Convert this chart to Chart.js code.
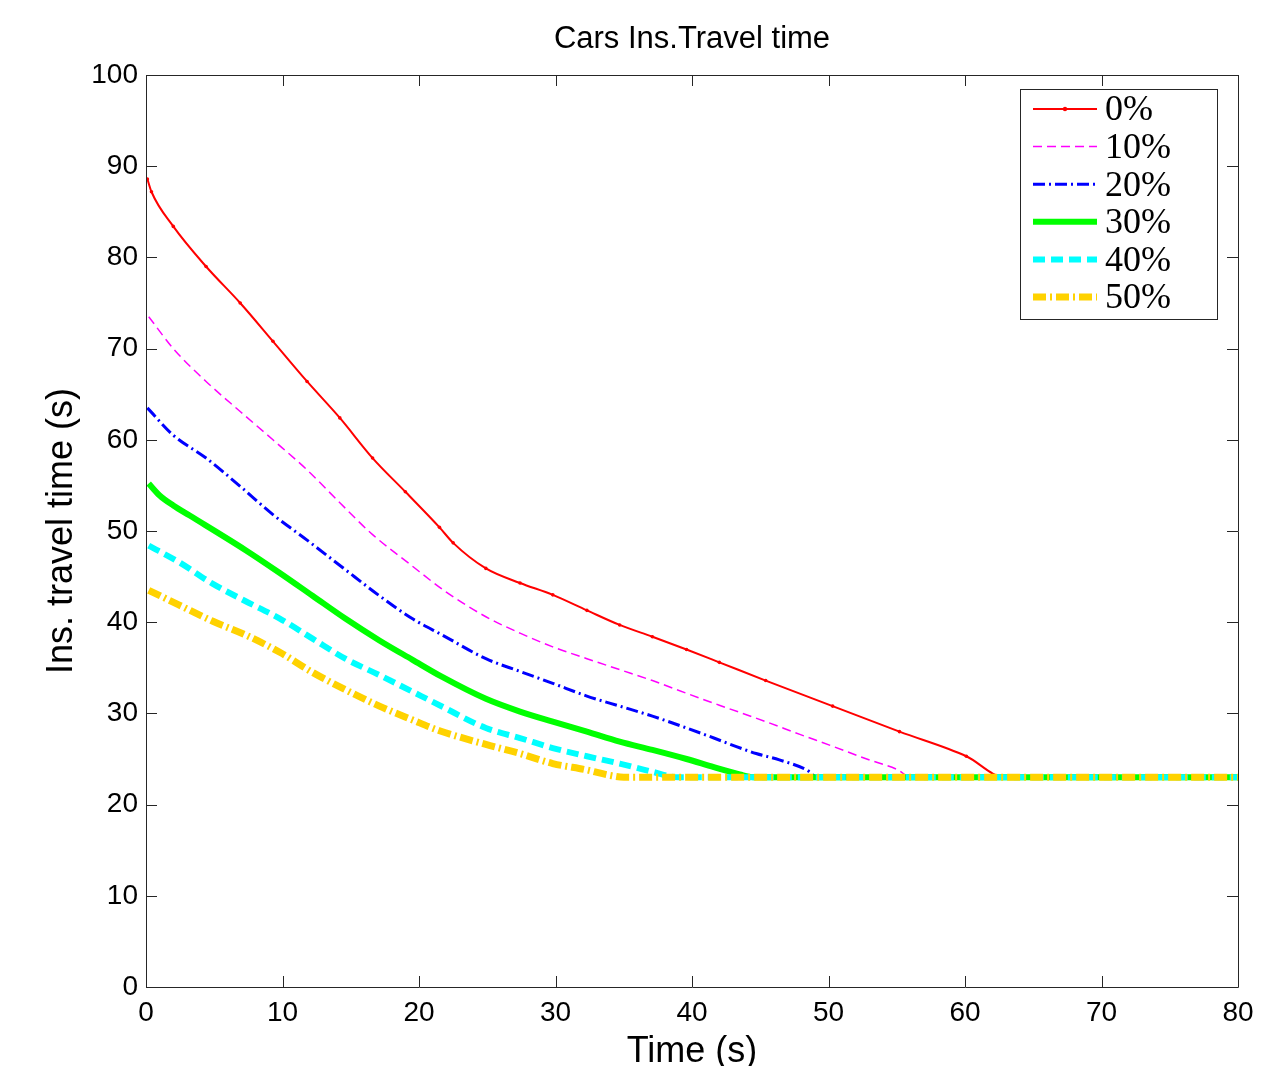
<!DOCTYPE html>
<html>
<head>
<meta charset="utf-8">
<script src="https://cdn.jsdelivr.net/npm/chart.js@4.4.1/dist/chart.umd.min.js"></script>
<style>
  html, body { margin: 0; padding: 0; background: #fff; }
</style>
</head>
<body>
<canvas id="chart" width="1283" height="1066"></canvas>
<script>
// series names (share of ... in %)
const seriesNames = ['0%', '10%', '20%', '30%', '40%', '50%'];
const chartTitle = 'Cars Ins.Travel time';

// time (s) / instantaneous travel time (s)
const t0  = [0.1, 0.4, 2, 4.4, 6.9, 9.3, 11.8, 14.2, 16.6, 19.0, 21.5, 22.5, 24.9, 27.4, 29.8, 32.3, 34.7, 37.1, 39.6, 42, 45.4, 50.3, 55.2, 60.1, 62.9, 80];
const v0  = [88.6, 87.2, 83.4, 79.0, 75.0, 70.8, 66.4, 62.4, 58.0, 54.3, 50.4, 48.7, 45.9, 44.3, 43.0, 41.3, 39.7, 38.4, 37.0, 35.6, 33.6, 30.8, 28.0, 25.3, 23, 23];

const t10 = [0.2, 2, 4.4, 6.9, 9.3, 11.8, 14.2, 16.6, 19.3, 22, 24.9, 27.4, 29.8, 32.3, 34.7, 37.1, 39.6, 42, 45.4, 47.9, 50.3, 52.8, 55.1, 56, 80];
const v10 = [73.5, 70.0, 66.4, 63.1, 60.0, 56.7, 53.1, 49.6, 46.4, 43.3, 40.6, 38.8, 37.3, 36.0, 34.8, 33.6, 32.2, 30.9, 29.1, 27.7, 26.4, 25.0, 23.8, 23, 23];

const t20 = [0.1, 2, 4.4, 6.9, 9.3, 11.8, 14.4, 17.1, 19.5, 21.7, 24.9, 27.4, 29.8, 32.3, 34.7, 37.1, 39.6, 41.6, 43, 44.7, 46.4, 48.4, 49.2, 80];
const v20 = [63.5, 60.5, 58.0, 54.9, 51.8, 49.0, 46.0, 42.9, 40.4, 38.6, 36.0, 34.6, 33.3, 31.9, 30.8, 29.7, 28.4, 27.3, 26.5, 25.6, 24.9, 23.8, 23, 23];

const t30 = [0.2, 1, 2, 3.2, 7.3, 9.8, 12.2, 14.6, 17.1, 19.5, 21.7, 24.9, 27.4, 29.8, 32.3, 34.7, 37.1, 39.6, 41.6, 43.5, 44.5, 80];
const v30 = [55.2, 53.9, 52.8, 51.7, 47.9, 45.4, 42.9, 40.4, 38.0, 35.9, 34.0, 31.6, 30.2, 29.1, 28.0, 26.9, 26.0, 25.0, 24.1, 23.3, 23, 23];

const t40 = [0.2, 2.4, 4.9, 7.3, 9.8, 12.2, 14.6, 17.1, 19.5, 21.5, 24.9, 27.4, 29.8, 32.3, 34.7, 37.1, 39, 80];
const v40 = [48.4, 46.6, 44.2, 42.3, 40.4, 38.2, 36.0, 34.2, 32.4, 30.9, 28.4, 27.3, 26.2, 25.3, 24.5, 23.6, 23, 23];

const t50 = [0.2, 2.4, 4.9, 7.3, 9.8, 12.2, 14.6, 17.1, 19.5, 21.5, 24.9, 27.4, 29.8, 32.3, 34, 35, 80];
const v50 = [43.5, 41.9, 40.1, 38.6, 36.7, 34.5, 32.6, 30.8, 29.3, 28.1, 26.6, 25.6, 24.5, 23.8, 23.2, 23, 23];

const xTicks = [0, 10, 20, 30, 40, 50, 60, 70, 80];
const yTicks = [0, 10, 20, 30, 40, 50, 60, 70, 80, 90, 100];

const toPoints = (ts, vs) => ts.map((t, i) => ({ x: t, y: vs[i] }));

const styles = [
  { color: '#ff0000', width: 2,   dash: [],             point: 1.8 },
  { color: '#ff00ff', width: 1.5, dash: [9, 5],         point: 0 },
  { color: '#0000ff', width: 3,   dash: [12, 4, 2, 4],  point: 0 },
  { color: '#00ff00', width: 6,   dash: [],             point: 0 },
  { color: '#00ffff', width: 6,   dash: [12, 6],        point: 0 },
  { color: '#ffd200', width: 7,   dash: [13, 4, 2, 4],  point: 0 }
];
const allData = [
  toPoints(t0, v0), toPoints(t10, v10), toPoints(t20, v20),
  toPoints(t30, v30), toPoints(t40, v40), toPoints(t50, v50)
];

const datasets = seriesNames.map((name, i) => ({
  label: name,
  data: allData[i],
  borderColor: styles[i].color,
  backgroundColor: styles[i].color,
  borderWidth: styles[i].width,
  borderDash: styles[i].dash,
  pointRadius: styles[i].point,
  pointBorderWidth: 0,
  pointBackgroundColor: styles[i].color,
  cubicInterpolationMode: 'monotone',
  fill: false,
  order: seriesNames.length - i  // later series on top, like matlab
}));

const axisColor = '#262626';
const sansFamily = "'Liberation Sans', Arial, sans-serif";

// matlab style box with inward ticks on all four sides, title centred on the axes
const boxPlugin = {
  id: 'boxTicks',
  afterDatasetsDraw(chart) {
    const { ctx, chartArea: a, scales } = chart;
    const len = 11;
    ctx.save();
    ctx.strokeStyle = axisColor;
    ctx.lineWidth = 1;
    ctx.beginPath();
    ctx.rect(Math.round(a.left) + 0.5, Math.round(a.top) + 0.5,
             Math.round(a.right - a.left), Math.round(a.bottom - a.top));
    xTicks.forEach(v => {
      const x = Math.round(scales.x.getPixelForValue(v)) + 0.5;
      ctx.moveTo(x, a.bottom); ctx.lineTo(x, a.bottom - len);
      ctx.moveTo(x, a.top); ctx.lineTo(x, a.top + len);
    });
    yTicks.forEach(v => {
      const y = Math.round(scales.y.getPixelForValue(v)) + 0.5;
      ctx.moveTo(a.left, y); ctx.lineTo(a.left + len, y);
      ctx.moveTo(a.right, y); ctx.lineTo(a.right - len, y);
    });
    ctx.stroke();

    ctx.fillStyle = '#000';
    ctx.font = '31px ' + sansFamily;
    ctx.textAlign = 'center';
    ctx.textBaseline = 'middle';
    ctx.fillText(chartTitle, (a.left + a.right) / 2, 39);
    ctx.restore();
  }
};

// legend box in the upper right corner of the axes
const legendPlugin = {
  id: 'boxLegend',
  afterDraw(chart) {
    const { ctx } = chart;
    const bx = 1020, by = 89, bw = 197, bh = 230;
    ctx.save();
    ctx.fillStyle = '#fff';
    ctx.fillRect(bx, by, bw, bh);
    ctx.strokeStyle = axisColor;
    ctx.lineWidth = 1;
    ctx.strokeRect(bx + 0.5, by + 0.5, bw, bh);
    chart.data.datasets.forEach((ds, i) => {
      const y = 109 + i * 37.6;
      ctx.beginPath();
      ctx.strokeStyle = ds.borderColor;
      ctx.lineWidth = ds.borderWidth;
      ctx.setLineDash(ds.borderDash);
      ctx.moveTo(1033, y);
      ctx.lineTo(1097, y);
      ctx.stroke();
      ctx.setLineDash([]);
      if (ds.pointRadius > 0) {
        ctx.fillStyle = ds.borderColor;
        ctx.beginPath();
        ctx.arc(1065, y, 2.2, 0, Math.PI * 2);
        ctx.fill();
      }
      ctx.fillStyle = '#000';
      ctx.font = '36px "Liberation Serif", serif';
      ctx.textAlign = 'left';
      ctx.textBaseline = 'middle';
      ctx.fillText(ds.label, 1105, y + 2);
    });
    ctx.restore();
  }
};

const tickFont = { family: sansFamily, size: 28 };

new Chart(document.getElementById('chart'), {
  type: 'line',
  data: { datasets },
  plugins: [boxPlugin, legendPlugin],
  options: {
    responsive: false,
    animation: false,
    devicePixelRatio: 1,
    layout: { padding: { left: 0, right: 45, top: 75, bottom: 0 } },
    plugins: {
      legend: { display: false },
      tooltip: { enabled: false },
      title: { display: false }
    },
    scales: {
      x: {
        type: 'linear',
        min: 0,
        max: 80,
        afterFit(scale) { scale.height = 79; },
        afterBuildTicks(scale) { scale.ticks = xTicks.map(v => ({ value: v })); },
        grid: { display: false, drawTicks: false },
        border: { display: false },
        ticks: { color: '#000', font: tickFont, padding: 9, maxRotation: 0 },
        title: {
          display: true,
          text: 'Time (s)',
          color: '#000',
          font: { family: sansFamily, size: 36, lineHeight: 0.8 },
          padding: { top: 0, bottom: 0 }
        }
      },
      y: {
        type: 'linear',
        min: 0,
        max: 100,
        afterFit(scale) { scale.width = 146; },
        afterBuildTicks(scale) { scale.ticks = yTicks.map(v => ({ value: v })); },
        grid: { display: false, drawTicks: false },
        border: { display: false },
        ticks: { color: '#000', font: tickFont, padding: 8 },
        title: {
          display: true,
          text: 'Ins. travel time (s)',
          color: '#000',
          font: { family: sansFamily, size: 36, lineHeight: 1.2 },
          padding: { top: 40, bottom: 0 }
        }
      }
    }
  }
});
</script>
</body>
</html>
